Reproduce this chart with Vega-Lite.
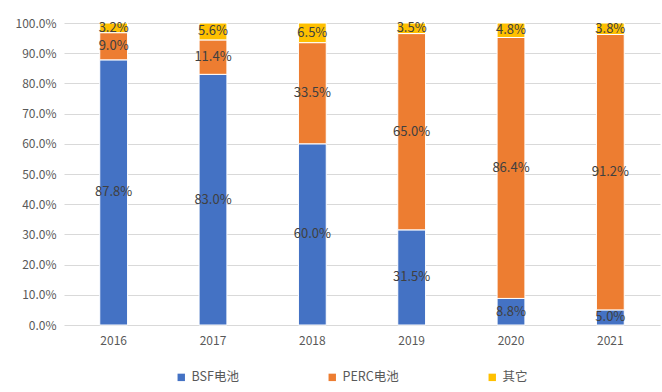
{
  "$schema": "https://vega.github.io/schema/vega-lite/v6.json",
  "autosize": {"type": "none"},
  "width": 596,
  "height": 302,
  "padding": {"left": 64, "top": 23, "right": 2, "bottom": 67},
  "background": "white",
  "config": {
    "font": "Noto Sans CJK SC",
    "view": {"stroke": null},
    "axisY": {"labelOverlap": false, "format": ".1%", "values": [0,0.1,0.2,0.3,0.4,0.5,0.6,0.7,0.8,0.9,1.0], "labelFontSize": 12, "labelColor": "#595959", "domain": false, "ticks": false, "labelPadding": 8, "gridColor": "#d9d9d9", "gridWidth": 1, "title": null}
  },
  "data": {
    "values": [
      {"year": "2016", "type": "BSF电池", "o": 1, "v": 0.878},
      {"year": "2016", "type": "PERC电池", "o": 2, "v": 0.090},
      {"year": "2016", "type": "其它", "o": 3, "v": 0.032},
      {"year": "2017", "type": "BSF电池", "o": 1, "v": 0.830},
      {"year": "2017", "type": "PERC电池", "o": 2, "v": 0.114},
      {"year": "2017", "type": "其它", "o": 3, "v": 0.056},
      {"year": "2018", "type": "BSF电池", "o": 1, "v": 0.600},
      {"year": "2018", "type": "PERC电池", "o": 2, "v": 0.335},
      {"year": "2018", "type": "其它", "o": 3, "v": 0.065},
      {"year": "2019", "type": "BSF电池", "o": 1, "v": 0.315},
      {"year": "2019", "type": "PERC电池", "o": 2, "v": 0.650},
      {"year": "2019", "type": "其它", "o": 3, "v": 0.035},
      {"year": "2020", "type": "BSF电池", "o": 1, "v": 0.088},
      {"year": "2020", "type": "PERC电池", "o": 2, "v": 0.864},
      {"year": "2020", "type": "其它", "o": 3, "v": 0.048},
      {"year": "2021", "type": "BSF电池", "o": 1, "v": 0.050},
      {"year": "2021", "type": "PERC电池", "o": 2, "v": 0.912},
      {"year": "2021", "type": "其它", "o": 3, "v": 0.038}
    ]
  },
  "transform": [
    {"stack": "v", "groupby": ["year"], "sort": [{"field": "o", "order": "ascending"}], "as": ["y0", "y1"]},
    {"calculate": "(datum.y0 + datum.y1) / 2", "as": "ymid"}
  ],
  "encoding": {
    "x": {
      "field": "year", "type": "nominal",
      "scale": {"paddingInner": 0.72, "paddingOuter": 0.36},
      "axis": {"title": null, "labelAngle": 0, "labelFontSize": 12, "labelColor": "#595959", "domain": false, "ticks": false, "labelPadding": 10}
    }
  },
  "layer": [
    {
      "mark": {"type": "bar", "stroke": "white", "strokeWidth": 1},
      "encoding": {
        "y": {
          "field": "y0", "type": "quantitative",
          "scale": {"domain": [0, 1], "nice": false}
        },
        "y2": {"field": "y1"},
        "color": {
          "field": "type", "type": "nominal",
          "scale": {"domain": ["BSF电池", "PERC电池", "其它"], "range": ["#4472C4", "#ED7D31", "#FFC000"]},
          "legend": {
            "title": null, "orient": "none", "legendX": 111, "legendY": 348, "direction": "horizontal",
            "symbolType": "square", "symbolSize": 55, "symbolStrokeWidth": 0,
            "labelFontSize": 12.5, "labelColor": "#595959", "columnPadding": 87
          }
        },
        "order": {"field": "o"}
      }
    },
    {
      "mark": {"type": "text", "fontSize": 13, "color": "#404040"},
      "encoding": {
        "y": {"field": "ymid", "type": "quantitative"},
        "text": {"field": "v", "type": "quantitative", "format": ".1%"}
      }
    }
  ]
}
